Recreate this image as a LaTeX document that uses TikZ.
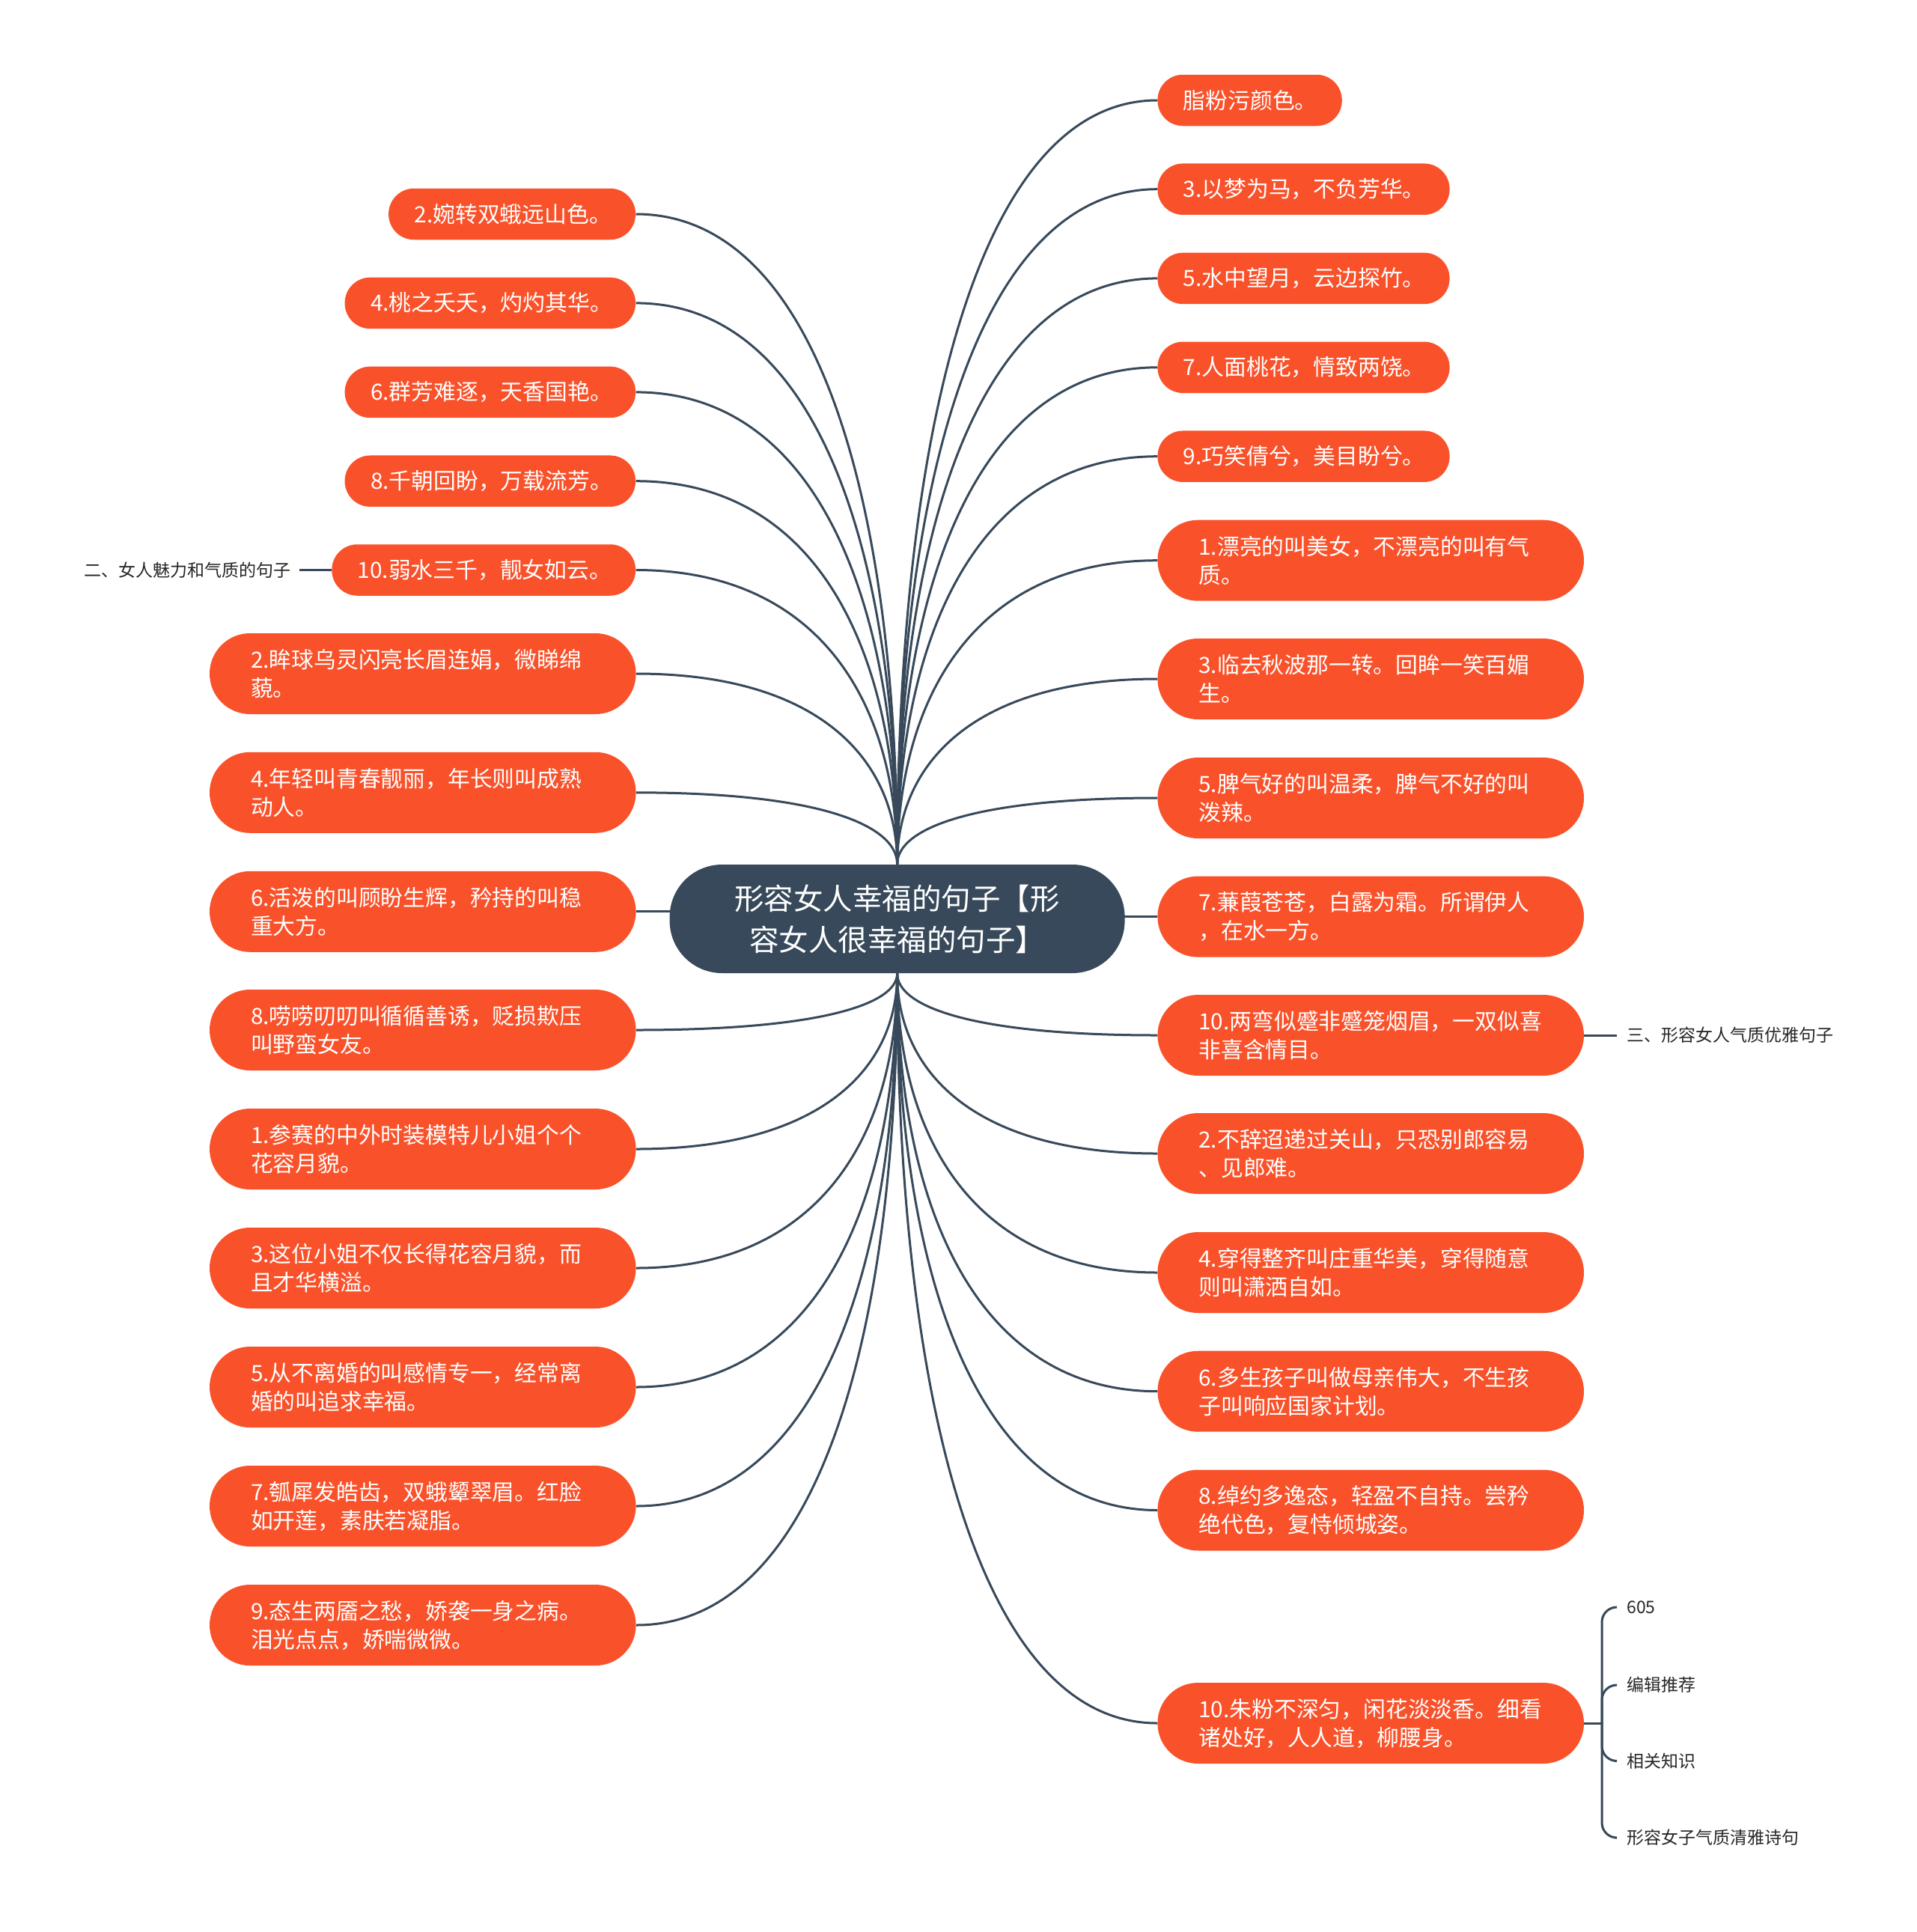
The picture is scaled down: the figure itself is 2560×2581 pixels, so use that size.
\documentclass[tikz,border=0pt]{standalone}
\usepackage{fontspec}
\setmainfont{Noto Sans CJK SC}
\usetikzlibrary{calc}
\definecolor{leaf}{HTML}{F9522B}
\definecolor{dark}{HTML}{37495A}
\definecolor{ink}{HTML}{262626}
\pgfdeclarelayer{bg}
\pgfsetlayers{bg,main}
\begin{document}
\begin{tikzpicture}[x=0.5pt,y=-0.5pt,
  leafbox/.style={rectangle, fill=leaf, text=white, inner ysep=0pt, align=left, font=\fontsize{14.9pt}{19pt}\selectfont},
  one/.style={leafbox, minimum height=34.25pt, rounded corners=17pt, inner xsep=17.25pt},
  two/.style={leafbox, minimum height=54pt, rounded corners=27pt, inner xsep=27.5pt, text width=229.8pt},
  conn/.style={draw=dark, line width=1.5pt},
  side/.style={text=ink, font=\fontsize{11.5pt}{14pt}\selectfont, inner ysep=0pt},
]
\useasboundingbox (0,0) rectangle (2560,2581);

% root
\node[fill=dark, text=white, rounded corners=35pt, minimum width=304pt, minimum height=72.5pt,
      align=center, inner sep=0pt, font=\fontsize{19.75pt}{27.5pt}\selectfont]
      (root) at (1198.6,1227.5) {形容女人幸福的句子【形\\容女人很幸福的句子】};

% left single-line
\node[one, text width=130.5pt, anchor=east] (L1) at (849.5,286) {2.婉转双蛾远山色。};
\node[one, text width=159.75pt, anchor=east] (L2) at (849.5,404.9) {4.桃之夭夭，灼灼其华。};
\node[one, text width=159.75pt, anchor=east] (L3) at (849.5,523.9) {6.群芳难逐，天香国艳。};
\node[one, text width=159.75pt, anchor=east] (L4) at (849.5,642.7) {8.千朝回盼，万载流芳。};
\node[one, text width=168.4pt, anchor=east] (L5) at (849.5,761.5) {10.弱水三千，靓女如云。};
% left two-line
\node[two, anchor=east] (L6) at (850,900) {2.眸球乌灵闪亮长眉连娟，微睇绵\\藐。};
\node[two, anchor=east] (L7) at (850,1058.8) {4.年轻叫青春靓丽，年长则叫成熟\\动人。};
\node[two, anchor=east] (L8) at (850,1217.8) {6.活泼的叫顾盼生辉，矜持的叫稳\\重大方。};
\node[two, anchor=east] (L9) at (850,1376) {8.唠唠叨叨叫循循善诱，贬损欺压\\叫野蛮女友。};
\node[two, anchor=east] (L10) at (850,1535) {1.参赛的中外时装模特儿小姐个个\\花容月貌。};
\node[two, anchor=east] (L11) at (850,1694) {3.这位小姐不仅长得花容月貌，而\\且才华横溢。};
\node[two, anchor=east] (L12) at (850,1853) {5.从不离婚的叫感情专一，经常离\\婚的叫追求幸福。};
\node[two, anchor=east] (L13) at (850,2012) {7.瓠犀发皓齿，双蛾颦翠眉。红脸\\如开莲，素肤若凝脂。};
\node[two, anchor=east] (L14) at (850,2171) {9.态生两靥之愁，娇袭一身之病。\\泪光点点，娇喘微微。};

% right single-line
\node[one, text width=88.7pt, anchor=west] (R1) at (1546,134) {脂粉污颜色。};
\node[one, text width=160.6pt, anchor=west] (R2) at (1546,252.7) {3.以梦为马，不负芳华。};
\node[one, text width=160.6pt, anchor=west] (R3) at (1546,371.9) {5.水中望月，云边探竹。};
\node[one, text width=160.6pt, anchor=west] (R4) at (1546,490.8) {7.人面桃花，情致两饶。};
\node[one, text width=160.6pt, anchor=west] (R5) at (1546,609.7) {9.巧笑倩兮，美目盼兮。};
% right two-line
\node[two, anchor=west] (R6) at (1546,748.7) {1.漂亮的叫美女，不漂亮的叫有气\\质。};
\node[two, anchor=west] (R7) at (1546,907) {3.临去秋波那一转。回眸一笑百媚\\生。};
\node[two, anchor=west] (R8) at (1546,1066) {5.脾气好的叫温柔，脾气不好的叫\\泼辣。};
\node[two, anchor=west] (R9) at (1546,1224.6) {7.蒹葭苍苍，白露为霜。所谓伊人\\，在水一方。};
\node[two, anchor=west] (R10) at (1546,1383) {10.两弯似蹙非蹙笼烟眉，一双似喜\\非喜含情目。};
\node[two, anchor=west] (R11) at (1546,1541) {2.不辞迢递过关山，只恐别郎容易\\、见郎难。};
\node[two, anchor=west] (R12) at (1546,1700) {4.穿得整齐叫庄重华美，穿得随意\\则叫潇洒自如。};
\node[two, anchor=west] (R13) at (1546,1858.7) {6.多生孩子叫做母亲伟大，不生孩\\子叫响应国家计划。};
\node[two, anchor=west] (R14) at (1546,2017.5) {8.绰约多逸态，轻盈不自持。尝矜\\绝代色，复恃倾城姿。};
\node[two, anchor=west] (R15) at (1546,2302) {10.朱粉不深匀，闲花淡淡香。细看\\诸处好，人人道，柳腰身。};

% side labels
\node[side, anchor=east, inner xsep=5.7pt] (s2) at (400,761.5) {二、女人魅力和气质的句子};
\node[side, anchor=west, inner xsep=6.5pt] (s3) at (2160,1383) {三、形容女人气质优雅句子};

% children of R15
\coordinate (j) at (2140,2302);
\node[side, anchor=west, inner xsep=7.5pt] (c1) at (2158,2147) {605};
\node[side, anchor=west, inner xsep=7.5pt] (c2) at (2158,2251) {编辑推荐};
\node[side, anchor=west, inner xsep=7.5pt] (c3) at (2158,2352.5) {相关知识};
\node[side, anchor=west, inner xsep=7.5pt] (c4) at (2158,2455) {形容女子气质清雅诗句};

\begin{pgfonlayer}{bg}
\foreach \n in {L1,L2,L3,L4,L5,L6,L7}
  \draw[conn] (root.north) .. controls ($(root.north)!0.55!(root.north|-\n.east)$) and ($(root.north|-\n.east)!0.3!(\n.east)$) .. (\n.east);
\foreach \n in {L9,L10,L11,L12,L13,L14}
  \draw[conn] (root.south) .. controls ($(root.south)!0.55!(root.south|-\n.east)$) and ($(root.south|-\n.east)!0.3!(\n.east)$) .. (\n.east);
\foreach \n in {R1,R2,R3,R4,R5,R6,R7,R8}
  \draw[conn] (root.north) .. controls ($(root.north)!0.55!(root.north|-\n.west)$) and ($(root.north|-\n.west)!0.3!(\n.west)$) .. (\n.west);
\foreach \n in {R10,R11,R12,R13,R14,R15}
  \draw[conn] (root.south) .. controls ($(root.south)!0.55!(root.south|-\n.west)$) and ($(root.south|-\n.west)!0.3!(\n.west)$) .. (\n.west);
\draw[conn] (L8.east) -- ([xshift=20]L8.east -| root.west);
\draw[conn] (R9.west) -- ([xshift=-20]R9.west -| root.east);
\draw[conn] (s2.east) -- (L5.west);
\draw[conn] (R10.east) -- (s3.west);
\draw[conn] (R15.east) -- (j);
\foreach \c in {c1,c2,c3,c4}
  \draw[conn, rounded corners=10pt] (j) |- (\c.west);
\end{pgfonlayer}
\end{tikzpicture}
\end{document}
